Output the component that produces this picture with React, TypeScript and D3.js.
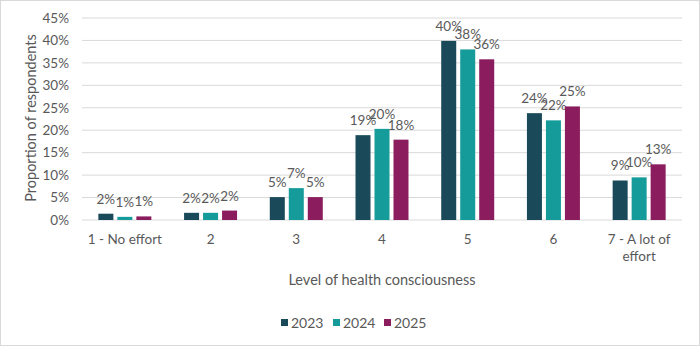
import React from "react";
import * as d3 from "d3";

const categories = ["1 - No effort", "2", "3", "4", "5", "6", "7 - A lot of effort"];
const years = ["2023", "2024", "2025"];
const values2023 = [1.4, 1.6, 5.1, 18.9, 39.9, 23.8, 8.8];
const values2024 = [0.7, 1.6, 7.1, 20.3, 38.0, 22.2, 9.5];
const values2025 = [0.8, 2.1, 5.1, 17.9, 35.8, 25.3, 12.4];
const labels2023 = ["2%", "2%", "5%", "19%", "40%", "24%", "9%"];
const labels2024 = ["1%", "2%", "7%", "20%", "38%", "22%", "10%"];
const labels2025 = ["1%", "2%", "5%", "18%", "36%", "25%", "13%"];
const yTicks = [0, 5, 10, 15, 20, 25, 30, 35, 40, 45];
const colors = ["#1a4a5a", "#169b9b", "#8b1d5f"];

const seriesValues = [values2023, values2024, values2025];
const seriesLabels = [labels2023, labels2024, labels2025];

const W = 700;
const H = 346;
const font = "Lato, 'Open Sans', sans-serif";
const textColor = "#595959";

export default function App() {
  const x0 = d3.scaleBand<string>().domain(categories).range([82, 682]);
  const x1 = d3.scaleBand<string>().domain(years).range([-26.5, 26.5]).paddingInner(0.21);
  const y = d3.scaleLinear().domain([0, 45]).range([220, 18]);

  const legendX = [281, 333, 384];

  return (
    <svg width={W} height={H} style={{ position: "absolute", left: 0, top: 0 }} fontFamily={font}>
      <rect x={0.5} y={0.5} width={W - 1} height={H - 1} fill="#fff" stroke="#d9d9d9" />
      {yTicks.map((t) => (
        <g key={t}>
          <line x1={82} x2={682} y1={y(t)} y2={y(t)} stroke="#d9d9d9" strokeWidth={1} />
          <text x={69} y={y(t)} dy="0.35em" textAnchor="end" fontSize={13.5} fill={textColor}>
            {t}%
          </text>
        </g>
      ))}
      {categories.map((c, ci) => {
        const cx = (x0(c) as number) + x0.bandwidth() / 2;
        return (
          <g key={c}>
            {years.map((yr, si) => {
              const v = seriesValues[si][ci];
              const bx = cx + (x1(yr) as number);
              const bw = x1.bandwidth();
              return (
                <g key={yr}>
                  <rect x={bx} y={y(v)} width={bw} height={y(0) - y(v)} fill={colors[si]} />
                  <text x={bx + bw / 2} y={y(v) - 10} textAnchor="middle" fontSize={13.5} fill={textColor}>
                    {seriesLabels[si][ci]}
                  </text>
                </g>
              );
            })}
            {c === "7 - A lot of effort" ? (
              <text x={cx} y={244} textAnchor="middle" fontSize={13.5} fill={textColor}>
                <tspan x={cx}>7 - A lot of</tspan>
                <tspan x={cx} dy={17}>effort</tspan>
              </text>
            ) : (
              <text x={cx} y={244} textAnchor="middle" fontSize={13.5} fill={textColor}>
                {c}
              </text>
            )}
          </g>
        );
      })}
      <text
        transform={`translate(36,118) rotate(-90)`}
        textAnchor="middle"
        fontSize={14.5}
        fill={textColor}
      >
        Proportion of respondents
      </text>
      <text x={382} y={285} textAnchor="middle" fontSize={14.5} fill={textColor}>
        Level of health consciousness
      </text>
      {years.map((yr, i) => (
        <g key={yr}>
          <rect x={legendX[i]} y={319} width={7} height={7} fill={colors[i]} />
          <text x={legendX[i] + 10} y={327.5} fontSize={14} fill={textColor}>
            {yr}
          </text>
        </g>
      ))}
    </svg>
  );
}
